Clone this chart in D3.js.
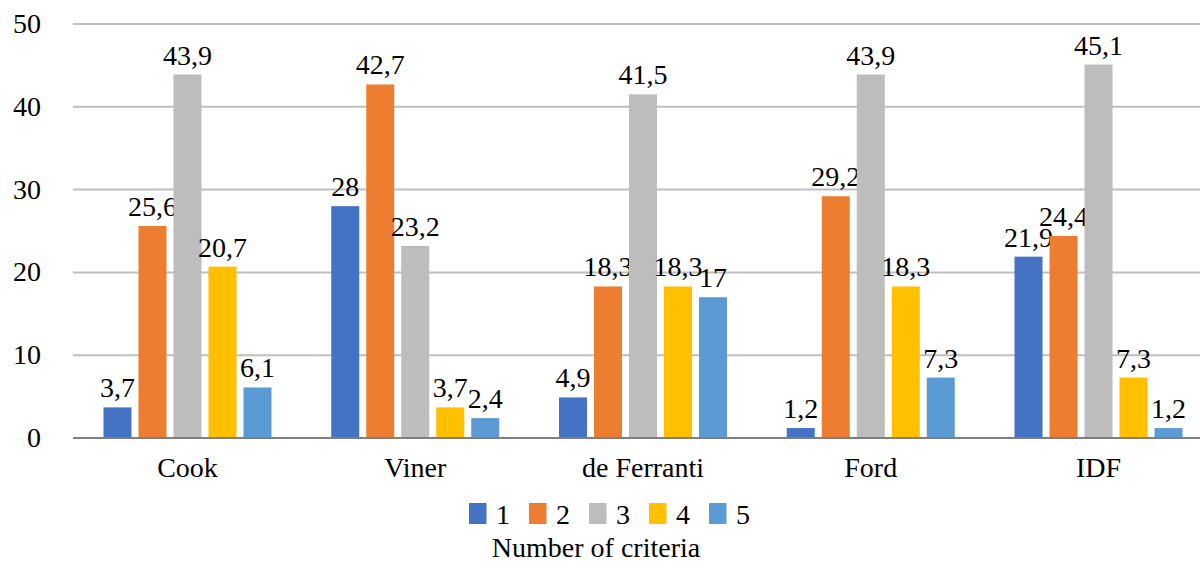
<!DOCTYPE html>
<html>
<head>
<meta charset="utf-8">
<script src="https://cdn.jsdelivr.net/npm/d3@7"></script>
</head>
<body style="margin:0">
<svg id="chart" width="1200" height="563"></svg>
<script>
const categories = ["Cook", "Viner", "de Ferranti", "Ford", "IDF"];
const seriesNames = ["1", "2", "3", "4", "5"];
const series1 = [3.7, 28, 4.9, 1.2, 21.9];
const series2 = [25.6, 42.7, 18.3, 29.2, 24.4];
const series3 = [43.9, 23.2, 41.5, 43.9, 45.1];
const series4 = [20.7, 3.7, 18.3, 18.3, 7.3];
const series5 = [6.1, 2.4, 17, 7.3, 1.2];
const yTicks = [0, 10, 20, 30, 40, 50];
const colors = ["#4472C4", "#ED7D31", "#BDBDBD", "#FFC000", "#5B9BD5"];
const axisTitle = "Number of criteria";

const allSeries = [series1, series2, series3, series4, series5];

const svg = d3.select("#chart");
const fontSize = 28;
const fontFamily = "Times New Roman";

const x0 = d3.scaleBand().domain(categories).range([73.6, 1212.4]).paddingInner(0).paddingOuter(0);
const x1 = d3.scaleBand().domain(seriesNames).range([-84, 84]).paddingInner(0.2).paddingOuter(0);
const y = d3.scaleLinear().domain([0, 50]).range([438, 24]);

function addText(parent, x, yy, anchor, str) {
  return parent.append("text")
    .attr("x", x).attr("y", yy)
    .attr("font-size", fontSize)
    .attr("font-family", fontFamily)
    .attr("text-anchor", anchor)
    .text(str);
}

// gridlines
svg.append("g").selectAll("line")
  .data(yTicks.filter(t => t !== 0))
  .join("line")
  .attr("x1", 73).attr("x2", 1200)
  .attr("y1", d => y(d)).attr("y2", d => y(d))
  .attr("stroke", "#BFBFBF").attr("stroke-width", 2);

// y labels
const yl = svg.append("g");
yTicks.forEach(t => addText(yl, 41, y(t) + 9, "end", String(t)));

// bars
const barsG = svg.append("g");
categories.forEach((cat, ci) => {
  const cx = x0(cat) + x0.bandwidth() / 2;
  const g = barsG.append("g").attr("transform", `translate(${cx},0)`);
  seriesNames.forEach((s, si) => {
    const v = allSeries[si][ci];
    g.append("rect")
      .attr("x", x1(s))
      .attr("width", x1.bandwidth())
      .attr("y", y(v))
      .attr("height", y(0) - y(v))
      .attr("fill", colors[si]);
    addText(g, x1(s) + x1.bandwidth() / 2, y(v) - 10, "middle", String(v).replace(".", ","));
  });
});

// zero axis line
svg.append("line")
  .attr("x1", 73).attr("x2", 1200)
  .attr("y1", y(0)).attr("y2", y(0))
  .attr("stroke", "#7F7F7F").attr("stroke-width", 2);

// category labels
const cl = svg.append("g");
categories.forEach(cat => addText(cl, x0(cat) + x0.bandwidth() / 2, 477, "middle", cat));

// legend
const legend = svg.append("g");
seriesNames.forEach((s, i) => {
  const lx = 469 + i * 60;
  legend.append("rect")
    .attr("x", lx).attr("y", 503)
    .attr("width", 17.5).attr("height", 21)
    .attr("fill", colors[i]);
  addText(legend, lx + 27, 524, "start", s);
});

// axis title
addText(svg, 596, 557, "middle", axisTitle);
</script>
</body>
</html>
